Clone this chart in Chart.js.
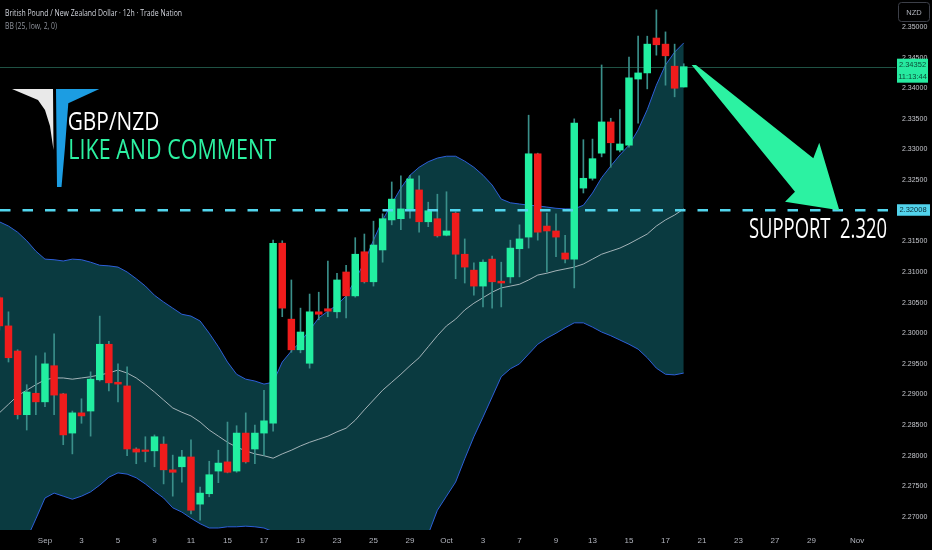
<!DOCTYPE html>
<html>
<head>
<meta charset="utf-8">
<title>GBP/NZD 12h</title>
<script src="https://cdn.jsdelivr.net/npm/chart.js@4.4.1/dist/chart.umd.min.js"></script>
<style>
  html, body { margin: 0; padding: 0; background: #000; }
  #wrap { width: 932px; height: 550px; position: relative; }
</style>
</head>
<body>
<div id="wrap"><canvas id="fxChart"></canvas></div>
<script>
// 12h candles, index 0 = Sep 1 first candle, -5..-1 = last bars of August
const opens  = [2.3058,2.3012,2.2971,2.2867,2.2902, 2.2888,2.2947,2.2901,2.2837,2.2870,2.2873,2.2924,2.2982,2.2920,2.2914,
                2.2811,2.2809,2.2808,2.2819,2.2777,2.2782,2.2798,2.2721,2.2738,2.2775,2.2790,2.2775,2.2837,2.2811,2.2837,
                2.2853,2.3147,2.3023,2.2973,2.2951,2.3035,2.3040,2.3035,2.3100,2.3061,2.3133,2.3084,2.3136,2.3185,2.3187,
                2.3203,2.3234,2.3182,2.3187,2.3160,2.3196,2.3129,2.3103,2.3077,2.3121,2.3085,2.3092,2.3138,2.3157,2.3293,
                2.3175,2.3167,2.3131,2.3121,2.3237,2.3253,2.3294,2.3345,2.3299,2.3307,2.3415,2.3425,2.3482,2.3472,2.3436,2.3402];
const highs  = [2.3060,2.3035,2.2973,2.2916,2.2963, 2.2968,2.2999,2.2902,2.2873,2.2893,2.2937,2.3028,2.2987,2.2950,2.2945,
                2.2813,2.2831,2.2834,2.2831,2.2801,2.2809,2.2826,2.2749,2.2791,2.2809,2.2855,2.2849,2.2870,2.2850,2.2907,
                2.3152,2.3151,2.3087,2.3041,2.3064,2.3067,2.3118,2.3098,2.3111,2.3156,2.3162,2.3183,2.3195,2.3247,2.3257,
                2.3258,2.3257,2.3214,2.3227,2.3231,2.3198,2.3154,2.3115,2.3120,2.3126,2.3116,2.3152,2.3177,2.3356,2.3294,
                2.3196,2.3195,2.3160,2.3350,2.3316,2.3317,2.3438,2.3351,2.3365,2.3451,2.3485,2.3485,2.3528,2.3492,2.3472,2.3440];
const lows   = [2.3005,2.2953,2.2860,2.2842,2.2867, 2.2880,2.2867,2.2818,2.2803,2.2853,2.2832,2.2922,2.2906,2.2888,2.2800,
                2.2787,2.2790,2.2782,2.2754,2.2734,2.2757,2.2705,2.2695,2.2733,2.2756,2.2772,2.2773,2.2788,2.2787,2.2801,
                2.2840,2.3027,2.2969,2.2968,2.2943,2.3022,2.3027,2.3025,2.3025,2.3059,2.3082,2.3077,2.3116,2.3177,2.3169,
                2.3188,2.3165,2.3174,2.3157,2.3159,2.3089,2.3082,2.3062,2.3043,2.3041,2.3043,2.3082,2.3092,2.3139,2.3152,
                2.3100,2.3125,2.3115,2.3074,2.3229,2.3250,2.3288,2.3271,2.3296,2.3304,2.3343,2.3399,2.3454,2.3405,2.3386,2.3402];
const closes = [2.3012,2.2960,2.2867,2.2904,2.2888, 2.2950,2.2899,2.2834,2.2870,2.2865,2.2925,2.2982,2.2919,2.2917,2.2811,
                2.2806,2.2807,2.2831,2.2777,2.2773,2.2798,2.2711,2.2739,2.2769,2.2788,2.2773,2.2837,2.2790,2.2837,2.2857,
                2.3147,2.3041,2.2973,2.3002,2.3035,2.3031,2.3036,2.3087,2.3061,2.3129,2.3084,2.3144,2.3187,2.3219,2.3203,
                2.3252,2.3182,2.3200,2.3159,2.3167,2.3129,2.3108,2.3077,2.3116,2.3084,2.3082,2.3139,2.3154,2.3293,2.3165,
                2.3167,2.3157,2.3121,2.3343,2.3253,2.3285,2.3345,2.3311,2.3309,2.3417,2.3425,2.3472,2.3471,2.3453,2.3400,2.34352];

// BB (25, low, 2, 0)
const bbUpper = [2.3182,2.3175,2.3165,2.3151,2.3134, 2.3121,2.3120,2.3118,2.3121,2.3120,2.3116,2.3111,2.3110,2.3108,2.3100,
                 2.3089,2.3077,2.3062,2.3051,2.3041,2.3031,2.3028,2.3020,2.3000,2.2978,2.2953,2.2933,2.2925,2.2922,2.2917,
                 2.2920,2.2953,2.2971,2.2986,2.3005,2.3025,2.3036,2.3046,2.3061,2.3087,2.3116,2.3152,2.3185,2.3211,2.3237,
                 2.3258,2.3271,2.3280,2.3286,2.3289,2.3289,2.3281,2.3271,2.3258,2.3242,2.3219,2.3213,2.3211,2.3209,2.3208,
                 2.3206,2.3204,2.3203,2.3203,2.3209,2.3229,2.3254,2.3273,2.3291,2.3307,2.3332,2.3365,2.3405,2.3438,2.3459,2.3474];
const bbBasis = [2.2870,2.2884,2.2898,2.2907,2.2916, 2.2924,2.2927,2.2927,2.2925,2.2927,2.2929,2.2932,2.2935,2.2940,2.2935,
                 2.2927,2.2916,2.2904,2.2891,2.2878,2.2871,2.2865,2.2855,2.2842,2.2832,2.2822,2.2814,2.2808,2.2803,2.2800,
                 2.2796,2.2803,2.2809,2.2816,2.2822,2.2827,2.2832,2.2839,2.2845,2.2858,2.2875,2.2891,2.2907,2.2920,2.2933,
                 2.2947,2.2960,2.2978,2.2996,2.3012,2.3023,2.3038,2.3049,2.3058,2.3067,2.3074,2.3077,2.3080,2.3087,2.3095,
                 2.3098,2.3102,2.3105,2.3108,2.3113,2.3121,2.3129,2.3134,2.3139,2.3146,2.3154,2.3162,2.3175,2.3185,2.3193,2.3203];
const bbLower = [2.2558,2.2594,2.2630,2.2664,2.2697, 2.2731,2.2739,2.2734,2.2729,2.2734,2.2741,2.2752,2.2765,2.2772,2.2770,
                 2.2764,2.2754,2.2742,2.2731,2.2715,2.2708,2.2698,2.2689,2.2682,2.2682,2.2684,2.2684,2.2685,2.2684,2.2682,
                 2.2676,2.2653,2.2648,2.2646,2.2640,2.2630,2.2628,2.2631,2.2630,2.2630,2.2633,2.2630,2.2630,2.2630,2.2630,
                 2.2635,2.2648,2.2672,2.2711,2.2734,2.2757,2.2795,2.2831,2.2863,2.2896,2.2929,2.2942,2.2950,2.2966,2.2982,
                 2.2992,2.3000,2.3009,2.3017,2.3017,2.3010,2.3002,2.2996,2.2989,2.2982,2.2974,2.2960,2.2943,2.2933,2.2932,2.2935];

const xTickIdx    = [0, 4, 8, 12, 16, 20, 24, 28, 32, 36, 40, 44, 48, 52, 56, 60, 64, 68, 72, 76, 80, 84, 89];
const xTickLabels = ['Sep','3','5','9','11','15','17','19','23','25','29','Oct','3','7','9','13','15','17','21','23','27','29','Nov'];
const yTicks = [2.27,2.275,2.28,2.285,2.29,2.295,2.30,2.305,2.31,2.315,2.32,2.325,2.33,2.335,2.34,2.345,2.35];

const supportLevel = 2.32008;
const lastPrice = closes[closes.length - 1];
const firstBar = -5;

const GREEN = '#22efa1';
const RED = '#f01c1c';
const WICK = '#3a8f8a';

const bars = opens.map((o, i) => i + firstBar);
const bodyData = bars.map((x, i) => ({ x: x, y: [opens[i], closes[i]] }));
const wickData = bars.map((x, i) => ({ x: x, y: [lows[i], highs[i]] }));
const bodyColors = opens.map((o, i) => closes[i] >= o ? GREEN : RED);

// arrow drawn in (bar, price) coordinates
const arrowPts = [[70.87, 2.34380], [71.34, 2.34380], [84.2, 2.32856], [84.85, 2.33111],
                  [87.05, supportLevel], [81.1, 2.32148], [82.19, 2.32311]];

function fitText(ctx, txt, x, base, capH, width, family, color) {
    const size = capH / 0.72;
    ctx.save();
    ctx.font = size + 'px ' + family;
    const w = ctx.measureText(txt).width;
    ctx.translate(x, base);
    ctx.scale(width / w, 1);
    ctx.fillStyle = color;
    ctx.textBaseline = 'alphabetic';
    ctx.textAlign = 'left';
    ctx.fillText(txt, 0, 0);
    ctx.restore();
}

function poly(ctx, pts, color) {
    ctx.beginPath();
    pts.forEach((p, i) => i ? ctx.lineTo(p[0], p[1]) : ctx.moveTo(p[0], p[1]));
    ctx.closePath();
    ctx.fillStyle = color;
    ctx.fill();
}

const overlay = {
    id: 'overlay',
    beforeDatasetsDraw(chart) {
        const { ctx, chartArea: a, scales: { y } } = chart;
        const yl = Math.round(y.getPixelForValue(lastPrice)) + 0.5;
        ctx.save();
        ctx.strokeStyle = '#1f5244';
        ctx.lineWidth = 1;
        ctx.beginPath();
        ctx.moveTo(a.left, yl);
        ctx.lineTo(a.right, yl);
        ctx.stroke();
        ctx.restore();
    },
    afterDatasetsDraw(chart) {
        const { ctx, chartArea: a, scales: { x, y } } = chart;
        ctx.save();

        // support level
        const ys = y.getPixelForValue(supportLevel);
        ctx.strokeStyle = '#52d6ee';
        ctx.lineWidth = 2.6;
        ctx.setLineDash([10.5, 12]);
        ctx.beginPath();
        ctx.moveTo(a.left, ys);
        ctx.lineTo(a.right, ys);
        ctx.stroke();
        ctx.setLineDash([]);

        // arrow
        poly(ctx, arrowPts.map(p => [x.getPixelForValue(p[0]), y.getPixelForValue(p[1])]), '#2cf2a2');

        fitText(ctx, 'SUPPORT  2.320', 749, ys + 27.5, 19, 138, '"Open Sans"', '#ffffff');

        // header
        fitText(ctx, 'British Pound / New Zealand Dollar · 12h · Trade Nation', 5, 16, 6.6, 177, '"Open Sans"', '#d1d4dc');
        fitText(ctx, 'BB (25, low, 2, 0)', 5, 29, 6.4, 52, '"Open Sans"', '#8f939c');

        // logo
        poly(ctx, [[12, 89], [53, 89], [53.5, 150], [50, 126], [45, 110], [38, 100]], '#e9e9e9');
        poly(ctx, [[56, 89], [99.3, 89], [68.3, 103.3], [65, 147], [61.5, 187], [57, 187]], '#1c9de2');
        fitText(ctx, 'GBP/NZD', 67.7, 130, 18.3, 91.6, '"Open Sans"', '#ffffff');
        fitText(ctx, 'LIKE AND COMMENT', 68.3, 159.3, 20, 207.7, '"Open Sans"', '#2cf2a2');
        ctx.restore();
    },
    afterDraw(chart) {
        const { ctx, scales: { y } } = chart;
        const ax = y.left + 1;
        ctx.save();
        ctx.textAlign = 'center';
        ctx.textBaseline = 'middle';
        ctx.font = '7.5px "Liberation Sans"';

        // last price tag with countdown
        const yl = y.getPixelForValue(lastPrice);
        ctx.fillStyle = '#26eaa0';
        ctx.fillRect(ax, yl - 8, 31, 24);
        ctx.fillStyle = '#0c4a36';
        ctx.fillText(lastPrice.toFixed(5), ax + 15.5, yl - 1.5);
        ctx.fillText('11:13:44', ax + 15.5, yl + 10.5);

        // support price tag
        const ys = y.getPixelForValue(supportLevel);
        ctx.fillStyle = '#52d3ec';
        ctx.fillRect(ax, ys - 6, 33, 11.5);
        ctx.fillStyle = '#0a2a33';
        ctx.fillText(supportLevel.toFixed(5), ax + 16, ys - 0.2);

        // currency button
        ctx.fillStyle = '#000';
        ctx.strokeStyle = '#3c3f48';
        ctx.lineWidth = 1;
        ctx.beginPath();
        ctx.roundRect(898.5, 2.5, 31, 19, 3);
        ctx.fill();
        ctx.stroke();
        ctx.fillStyle = '#b2b5be';
        ctx.fillText('NZD', 914, 12.5);
        ctx.restore();
    }
};

const ctx = document.getElementById('fxChart');
new Chart(ctx, {
    type: 'bar',
    data: {
        datasets: [
            {
                type: 'bar', label: 'body', data: bodyData, order: 0,
                backgroundColor: bodyColors, barThickness: 6.8, minBarLength: 1.5,
                grouped: false, borderWidth: 0
            },
            {
                type: 'bar', label: 'wick', data: wickData, order: 1,
                backgroundColor: WICK, barThickness: 1, grouped: false, borderWidth: 0
            },
            {
                type: 'line', label: 'basis', order: 2,
                data: bars.map((x, i) => ({ x: x, y: bbBasis[i] })),
                borderColor: 'rgba(190,200,205,0.85)', borderWidth: 1, pointRadius: 0, fill: false
            },
            {
                type: 'line', label: 'upper', order: 3,
                data: bars.map((x, i) => ({ x: x, y: bbUpper[i] })),
                borderColor: '#2d5fd8', borderWidth: 1, pointRadius: 0, fill: false
            },
            {
                type: 'line', label: 'lower', order: 4,
                data: bars.map((x, i) => ({ x: x, y: bbLower[i] })),
                borderColor: '#2d5fd8', borderWidth: 1, pointRadius: 0,
                fill: { target: 3 }, backgroundColor: '#0a3a40'
            }
        ]
    },
    options: {
        responsive: true,
        maintainAspectRatio: false,
        animation: false,
        layout: { padding: 0 },
        plugins: { legend: { display: false }, tooltip: { enabled: false } },
        scales: {
            x: {
                type: 'linear', min: -4.93, max: 93.26, offset: false,
                grid: { display: false, drawTicks: false }, border: { display: false },
                afterBuildTicks: (scale) => { scale.ticks = xTickIdx.map(v => ({ value: v })); },
                afterFit: (scale) => {
                    scale.height = 20;
                    scale.paddingLeft = 0;
                    scale.paddingRight = 0;
                },
                ticks: {
                    autoSkip: false, maxRotation: 0, padding: 6, color: '#b2b5be',
                    font: { family: 'Liberation Sans', size: 8 },
                    callback: (value, index) => xTickLabels[index]
                }
            },
            y: {
                type: 'linear', position: 'right', min: 2.267876, max: 2.354408,
                grid: { display: false, drawTicks: false }, border: { display: false },
                afterBuildTicks: (scale) => { scale.ticks = yTicks.map(v => ({ value: v })); },
                afterFit: (scale) => {
                    scale.width = 36;
                    scale.paddingTop = 0;
                    scale.paddingBottom = 0;
                },
                ticks: {
                    padding: 6, color: '#c4c6cc',
                    font: { family: 'Liberation Sans', size: 7 },
                    callback: (value) => value.toFixed(5)
                }
            }
        }
    },
    plugins: [overlay]
});
</script>
</body>
</html>
